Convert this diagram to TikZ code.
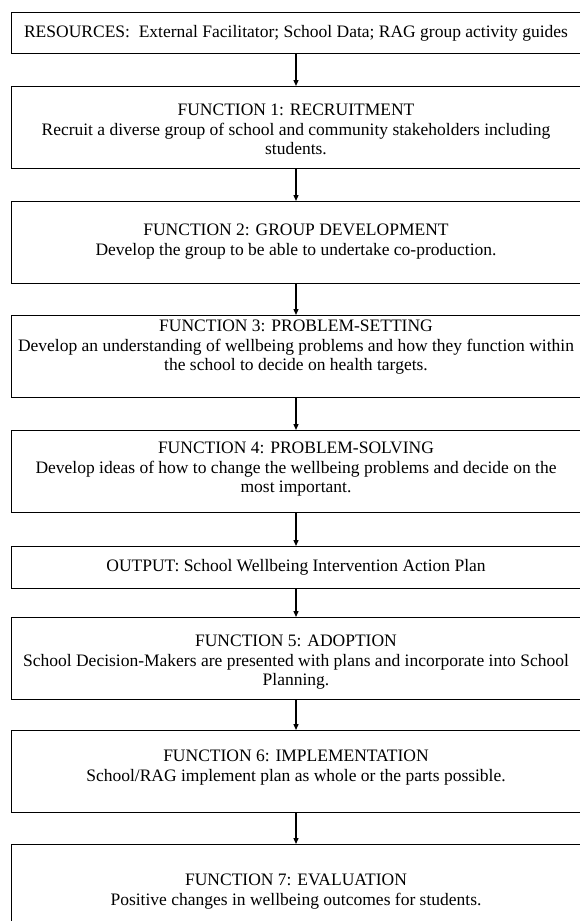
\documentclass[tikz,border=0pt]{standalone}
\usepackage{fontspec}
\setmainfont{Liberation Serif}
\usetikzlibrary{arrows.meta,positioning}

\begin{document}
\begin{tikzpicture}[x=1pt, y=-1pt,
    stagebox/.style={draw=black, line width=0.9pt, minimum width=570pt, inner sep=0pt, anchor=north},
    stagetext/.style={align=center, inner sep=0pt, anchor=north, font=\fontsize{17.5}{19.5}\selectfont},
    flow/.style={-{Triangle[length=6pt,width=5pt]}, line width=1.3pt}]
  \useasboundingbox (0,0) rectangle (579,921);

  % boxes, top to bottom (heights in pt)
  \node[stagebox, minimum height=41pt] (res) at (296,12) {};
  \node[stagebox, minimum height=82pt] (f1) at (296,86) {};
  \node[stagebox, minimum height=82pt] (f2) at (296,201) {};
  \node[stagebox, minimum height=82pt] (f3) at (296,315) {};
  \node[stagebox, minimum height=82pt] (f4) at (296,430) {};
  \node[stagebox, minimum height=42pt] (out) at (296,546) {};
  \node[stagebox, minimum height=82pt] (f5) at (296,617) {};
  \node[stagebox, minimum height=82pt] (f6) at (296,730) {};
  \node[stagebox, minimum height=82pt] (f7) at (296,844) {};

  % texts
  \node[stagetext, anchor=center] (restxt) at (res.center)
    {RESOURCES:\ \ External Facilitator; School Data; RAG group activity guides};
  \node[stagetext, below=18pt of f1.north] (f1txt)
    {FUNCTION 1: RECRUITMENT\\Recruit a diverse group of school and community stakeholders including\\students.};
  \node[stagetext, below=23pt of f2.north] (f2txt)
    {FUNCTION 2: GROUP DEVELOPMENT\\Develop the group to be able to undertake co-production.};
  \node[stagetext, below=5pt of f3.north] (f3txt)
    {FUNCTION 3: PROBLEM-SETTING\\Develop an understanding of wellbeing problems and how they function within\\the school to decide on health targets.};
  \node[stagetext, below=12pt of f4.north] (f4txt)
    {FUNCTION 4: PROBLEM-SOLVING\\Develop ideas of how to change the wellbeing problems and decide on the\\most important.};
  \node[stagetext, anchor=center] (outtxt) at (out.center)
    {OUTPUT: School Wellbeing Intervention Action Plan};
  \node[stagetext, below=18pt of f5.north] (f5txt)
    {FUNCTION 5: ADOPTION\\School Decision-Makers are presented with plans and incorporate into School\\Planning.};
  \node[stagetext, below=20pt of f6.north] (f6txt)
    {FUNCTION 6: IMPLEMENTATION\\School/RAG implement plan as whole or the parts possible.};
  \node[stagetext, below=30pt of f7.north] (f7txt)
    {FUNCTION 7: EVALUATION\\Positive changes in wellbeing outcomes for students.};

  % arrows between stages
  \foreach \a/\b in {res/f1,f1/f2,f2/f3,f3/f4,f4/out,out/f5,f5/f6,f6/f7}
    \draw[flow] (\a.south) -- (\b.north);
\end{tikzpicture}
\end{document}
